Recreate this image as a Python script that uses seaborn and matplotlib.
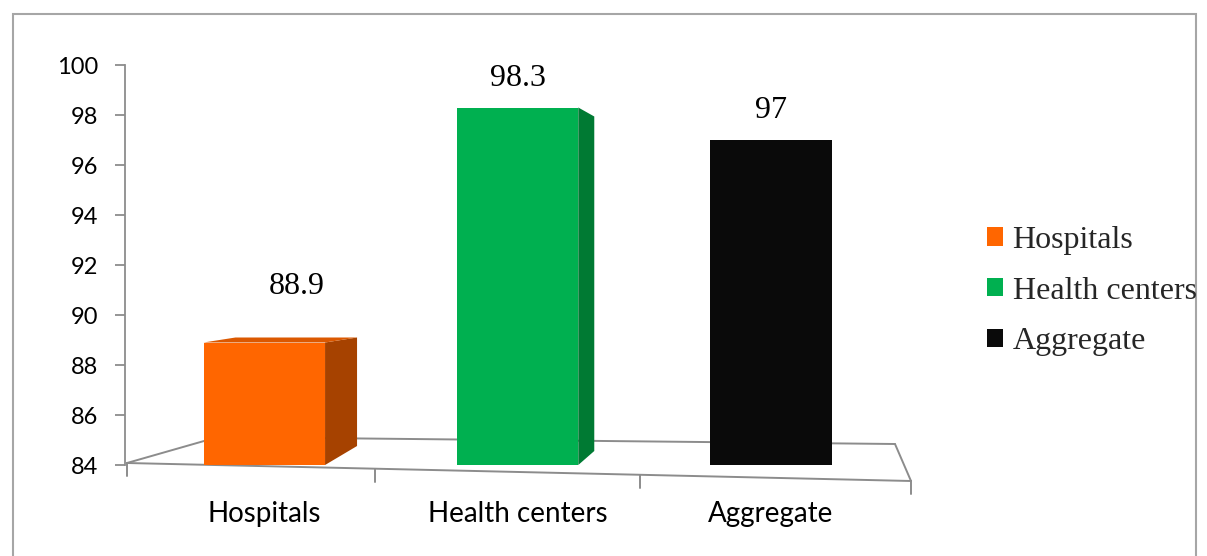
import matplotlib
matplotlib.use("Agg")
import numpy as np
import pandas as pd
import seaborn as sns
import matplotlib.pyplot as plt
from matplotlib.patches import Polygon, Rectangle
from matplotlib.lines import Line2D

# ---- data ----
categories = ["Hospitals", "Health centers", "Aggregate"]
values = [88.9, 98.3, 97.0]
value_labels = ["88.9", "98.3", "97"]
y_ticks = [84, 86, 88, 90, 92, 94, 96, 98, 100]

# ---- styling ----
front_colors = ["#FF6600", "#00B050", "#0A0A0A"]
side_colors = ["#A64200", "#007A33", "#0A0A0A"]
top_colors = ["#DB5800", "#00B050", "#0A0A0A"]
# pseudo-3D box depth per bar, in pixels: (shift right, rise at top, rise at bottom)
depth_px = [(32, 5, 19), (16, -9, 14), (0, 0, 0)]
# value label offset from the top centre of each front face, in pixels
label_offset_px = [(32, 56), (0, 29), (0, 30)]
axis_grey = "#8C8C8C"

W, H, DPI = 1207, 556, 100
sns.set_theme(style="white")
sans = ["Lato", "DejaVu Sans"]
serif = ["Liberation Serif", "DejaVu Serif"]
plt.rcParams["font.family"] = sans

fig = plt.figure(figsize=(W / DPI, H / DPI), dpi=DPI)
fig.patch.set_facecolor("white")

ax_l, ax_r, ax_t, ax_b = 125, 910, 65, 465
ax = fig.add_axes([ax_l / W, 1 - ax_b / H, (ax_r - ax_l) / W, (ax_b - ax_t) / H])
ax.patch.set_alpha(0)

df = pd.DataFrame({"category": categories, "value": values})
sns.barplot(data=df, x="category", y="value", hue="category",
            hue_order=categories, order=categories,
            palette=front_colors, saturation=1, width=0.48,
            linewidth=0, legend=True, ax=ax)

x_lo, x_hi = -0.55, 2.55
y_lo, y_hi = 84, 100
ax.set_xlim(x_lo, x_hi)
ax.set_ylim(y_lo, y_hi)
ax.set_yticks(y_ticks)
ax.set_xlabel("")
ax.set_ylabel("")

for s in ["top", "right", "bottom"]:
    ax.spines[s].set_visible(False)
ax.spines["left"].set_color(axis_grey)
ax.spines["left"].set_linewidth(1.3)
ax.tick_params(axis="y", left=True, length=7, width=1.3, color=axis_grey,
               pad=12, labelsize=17, labelcolor="black")
ax.tick_params(axis="x", bottom=False, length=0, pad=26, labelsize=20,
               labelcolor="black")

# pixels per data unit
ppx = (ax_r - ax_l) / (x_hi - x_lo)
ppy = (ax_b - ax_t) / (y_hi - y_lo)

# side and top faces for the boxes
for i, cont in enumerate(ax.containers):
    p = cont.patches[0]
    v = values[i]
    xl = p.get_x()
    xr = xl + p.get_width()
    dx, dyt, dyb = depth_px[i]
    if dx > 0:
        side = Polygon([(xr, y_lo), (xr, v),
                        (xr + dx / ppx, v + dyt / ppy),
                        (xr + dx / ppx, y_lo + dyb / ppy)],
                       closed=True, facecolor=side_colors[i], edgecolor="none",
                       clip_on=False, zorder=p.get_zorder())
        ax.add_patch(side)
        if dyt > 0:
            top = Polygon([(xl, v), (xl + dx / ppx, v + dyt / ppy),
                           (xr + dx / ppx, v + dyt / ppy), (xr, v)],
                          closed=True, facecolor=top_colors[i], edgecolor="none",
                          clip_on=False, zorder=p.get_zorder())
            ax.add_patch(top)
    ox, oy = label_offset_px[i]
    ax.annotate(value_labels[i], (xl + p.get_width() / 2, v),
                xytext=(ox * 72 / DPI, oy * 72 / DPI), textcoords="offset points",
                ha="center", va="center", fontsize=23, family=serif,
                color="black", annotation_clip=False)


# floor of the plot, drawn in figure pixel space
def P(px, py):
    return (px / W, 1 - py / H)


floor = [((127, 463), (218, 437)), ((218, 437), (895, 444)),
         ((895, 444), (911, 481)), ((127, 463), (911, 481))]
for a, b in floor:
    (x0, y0), (x1, y1) = P(*a), P(*b)
    fig.add_artist(Line2D([x0, x1], [y0, y1], transform=fig.transFigure,
                          color=axis_grey, lw=1.4, zorder=-1))
for tx in [127, 375, 640, 911]:
    ty = 463 + (tx - 127) * 18 / 784
    (x0, y0), (x1, y1) = P(tx, ty), P(tx, ty + 13)
    fig.add_artist(Line2D([x0, x1], [y0, y1], transform=fig.transFigure,
                          color=axis_grey, lw=1.4, zorder=-1))

# legend
handles, labels = ax.get_legend_handles_labels()
if ax.get_legend() is not None:
    ax.get_legend().remove()
fig.legend(handles, labels, loc="center left",
           bbox_to_anchor=(987 / W, 1 - 291 / H), bbox_transform=fig.transFigure,
           frameon=False, prop={"family": serif, "size": 23},
           handlelength=0.5, handleheight=0.5, handletextpad=0.3,
           labelspacing=0.68, borderaxespad=0, borderpad=0)

# outer frame
fig.add_artist(Rectangle((12.5 / W, -0.05), (1196 - 12.5) / W, 1 - 14 / H + 0.05,
                         transform=fig.transFigure, fill=False,
                         edgecolor="#A6A6A6", lw=1.5, zorder=-2))

fig.savefig("out.png", dpi=DPI, facecolor="white")
